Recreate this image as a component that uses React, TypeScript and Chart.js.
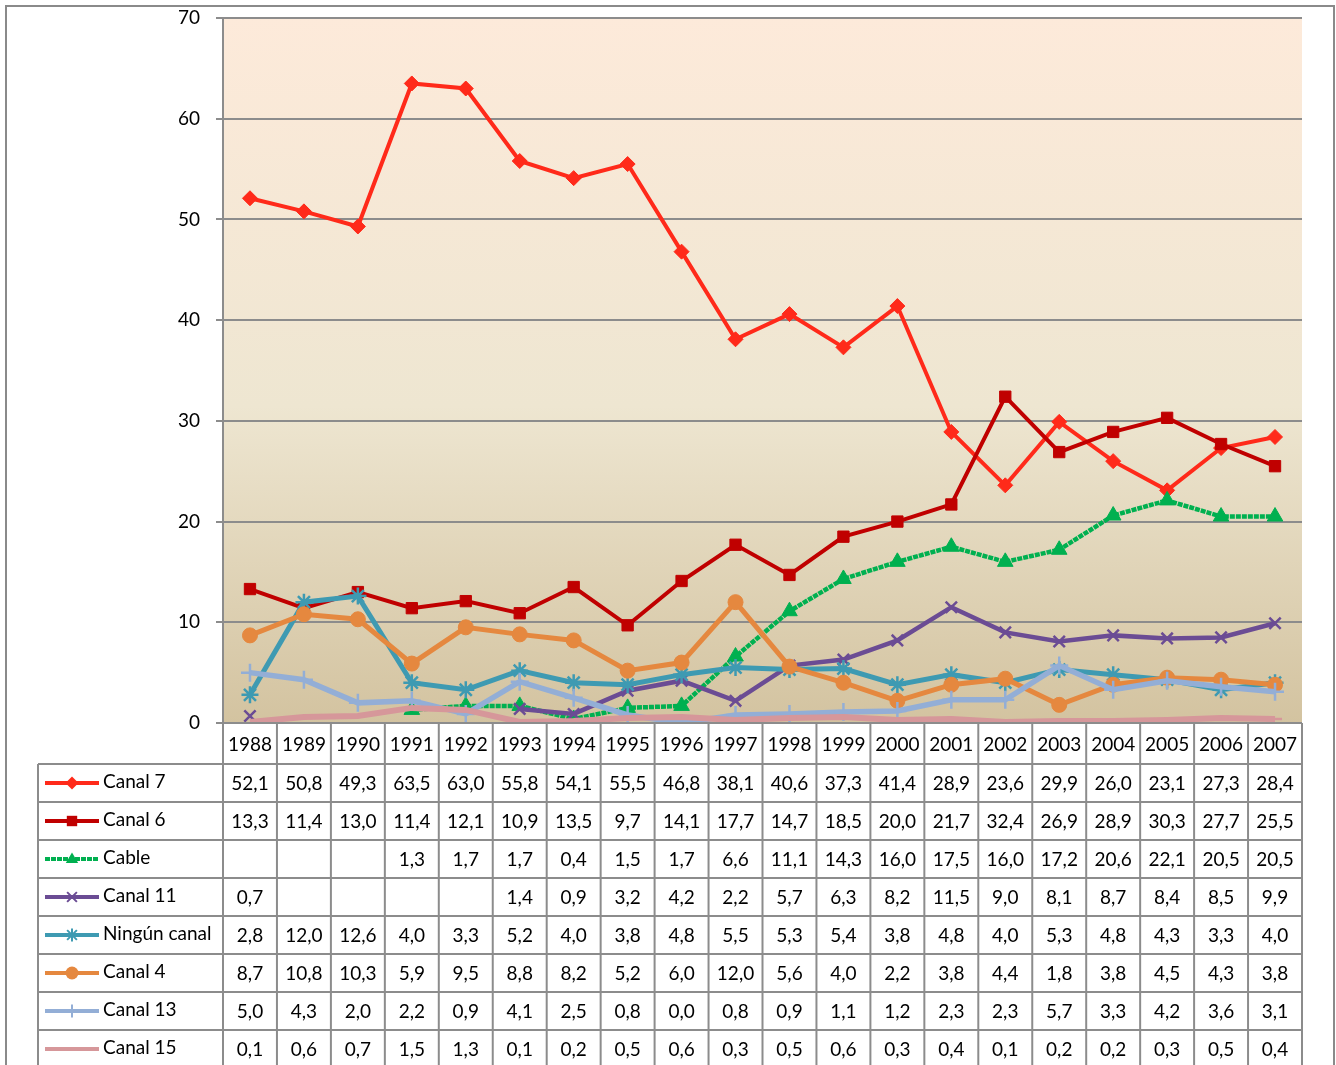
import React, { useEffect, useRef } from "react";
import { Chart, registerables } from "chart.js";

Chart.register(...registerables);

const years = ["1988","1989","1990","1991","1992","1993","1994","1995","1996","1997","1998","1999","2000","2001","2002","2003","2004","2005","2006","2007"];

const canal7 = [52.1,50.8,49.3,63.5,63.0,55.8,54.1,55.5,46.8,38.1,40.6,37.3,41.4,28.9,23.6,29.9,26.0,23.1,27.3,28.4];
const canal6 = [13.3,11.4,13.0,11.4,12.1,10.9,13.5,9.7,14.1,17.7,14.7,18.5,20.0,21.7,32.4,26.9,28.9,30.3,27.7,25.5];
const cable = [null,null,null,1.3,1.7,1.7,0.4,1.5,1.7,6.6,11.1,14.3,16.0,17.5,16.0,17.2,20.6,22.1,20.5,20.5];
const canal11 = [0.7,null,null,null,null,1.4,0.9,3.2,4.2,2.2,5.7,6.3,8.2,11.5,9.0,8.1,8.7,8.4,8.5,9.9];
const ningun = [2.8,12.0,12.6,4.0,3.3,5.2,4.0,3.8,4.8,5.5,5.3,5.4,3.8,4.8,4.0,5.3,4.8,4.3,3.3,4.0];
const canal4 = [8.7,10.8,10.3,5.9,9.5,8.8,8.2,5.2,6.0,12.0,5.6,4.0,2.2,3.8,4.4,1.8,3.8,4.5,4.3,3.8];
const canal13 = [5.0,4.3,2.0,2.2,0.9,4.1,2.5,0.8,0.0,0.8,0.9,1.1,1.2,2.3,2.3,5.7,3.3,4.2,3.6,3.1];
const canal15 = [0.1,0.6,0.7,1.5,1.3,0.1,0.2,0.5,0.6,0.3,0.5,0.6,0.3,0.4,0.1,0.2,0.2,0.3,0.5,0.4];

const seriesNames = ["Canal 7","Canal 6","Cable","Canal 11","Ningún canal","Canal 4","Canal 13","Canal 15"];
const seriesValues = [canal7, canal6, cable, canal11, ningun, canal4, canal13, canal15];
const yTicks = [0, 10, 20, 30, 40, 50, 60, 70];

const colors = ["#FF2A1A","#C00000","#00B050","#6B4C94","#3E9AB2","#E5883F","#93AED6","#D6979A"];
const widths = [4, 4, 4.5, 4.5, 5, 5, 5.5, 6];
const pointStyles = ["rectRot","rect","triangle","crossRot","star","circle","cross","dash"];
const radii = [7.5, 8, 9, 8, 8.5, 7.5, 9, 7];
const dashes = [[], [], [5, 1], [], [], [], [], []];

const FONT = "Lato, 'Open Sans', sans-serif";

const fmt = (v: number | null) => (v === null ? "" : v.toFixed(1).replace(".", ","));

const isStroked = (s: string) => s === "cross" || s === "crossRot" || s === "star" || s === "dash";

function drawMarker(ctx: CanvasRenderingContext2D, style: string, x: number, y: number, r: number, color: string) {
  ctx.save();
  ctx.fillStyle = color;
  ctx.strokeStyle = color;
  ctx.lineWidth = isStroked(style) ? 2 : 1;
  ctx.beginPath();
  if (style === "rectRot") {
    ctx.moveTo(x, y - r); ctx.lineTo(x + r, y); ctx.lineTo(x, y + r); ctx.lineTo(x - r, y); ctx.closePath(); ctx.fill();
  } else if (style === "rect") {
    const s = r * 0.8;
    ctx.rect(x - s, y - s, 2 * s, 2 * s); ctx.fill();
  } else if (style === "triangle") {
    ctx.moveTo(x, y - r); ctx.lineTo(x + r * 0.95, y + r * 0.6); ctx.lineTo(x - r * 0.95, y + r * 0.6); ctx.closePath(); ctx.fill();
  } else if (style === "circle") {
    ctx.arc(x, y, r, 0, Math.PI * 2); ctx.fill();
  } else if (style === "crossRot") {
    const d = r * 0.75;
    ctx.moveTo(x - d, y - d); ctx.lineTo(x + d, y + d); ctx.moveTo(x + d, y - d); ctx.lineTo(x - d, y + d); ctx.stroke();
  } else if (style === "cross") {
    ctx.moveTo(x, y - r); ctx.lineTo(x, y + r); ctx.moveTo(x - r, y); ctx.lineTo(x + r, y); ctx.stroke();
  } else if (style === "star") {
    const d = r * 0.75;
    ctx.moveTo(x - d, y - d); ctx.lineTo(x + d, y + d); ctx.moveTo(x + d, y - d); ctx.lineTo(x - d, y + d);
    ctx.moveTo(x, y - r); ctx.lineTo(x, y + r); ctx.stroke();
  } else if (style === "dash") {
    ctx.lineWidth = 4;
    ctx.moveTo(x - r, y); ctx.lineTo(x + r, y); ctx.stroke();
  }
  ctx.restore();
}

export default function App() {
  const ref = useRef<HTMLCanvasElement | null>(null);

  useEffect(() => {
    document.body.style.margin = "0";
    const canvas = ref.current!;
    const bgPlugin = {
      id: "bgPlugin",
      beforeDraw(chart: any) {
        const { ctx, chartArea: a } = chart;
        ctx.save();
        ctx.fillStyle = "#ffffff";
        ctx.fillRect(0, 0, chart.width, chart.height);
        const g = ctx.createLinearGradient(0, a.top, 0, a.bottom);
        g.addColorStop(0, "#FDEADA");
        g.addColorStop(0.55, "#EEE6D1");
        g.addColorStop(1, "#D3C3A0");
        ctx.fillStyle = g;
        ctx.fillRect(a.left, a.top, a.right - a.left, a.bottom - a.top);
        ctx.restore();
      },
    };
    const tablePlugin = {
      id: "tablePlugin",
      afterDraw(chart: any) {
        const { ctx, chartArea: a } = chart;
        const xs = chart.scales.x;
        const n = years.length;
        const colW = (a.right - a.left) / n;
        const headerTop = a.bottom;
        const headerBottom = a.bottom + 41;
        const rowH = 38;
        const tableLeft = 38;
        const bottom = chart.height + 10;
        ctx.save();
        ctx.strokeStyle = "#8A8A8A";
        ctx.lineWidth = 2;
        ctx.strokeRect(6, 6, 1328, chart.height + 20);
        ctx.strokeStyle = "#8C8C8C";
        ctx.lineWidth = 2;
        for (let i = 0; i <= n; i++) {
          const x = a.left + i * colW;
          ctx.beginPath();
          ctx.moveTo(x, headerTop);
          ctx.lineTo(x, bottom);
          ctx.stroke();
        }
        ctx.beginPath();
        ctx.moveTo(tableLeft, headerBottom);
        ctx.lineTo(tableLeft, bottom);
        ctx.stroke();
        ctx.beginPath();
        ctx.moveTo(a.left, headerTop);
        ctx.lineTo(a.right, headerTop);
        ctx.stroke();
        for (let r = 0; r <= seriesNames.length; r++) {
          const y = headerBottom + r * rowH;
          ctx.beginPath();
          ctx.moveTo(tableLeft, y);
          ctx.lineTo(a.right, y);
          ctx.stroke();
        }
        ctx.fillStyle = "#000";
        ctx.font = `19px ${FONT}`;
        ctx.textAlign = "center";
        ctx.textBaseline = "middle";
        years.forEach((yr, i) => {
          ctx.fillText(yr, xs.getPixelForValue(i), (headerTop + headerBottom) / 2 + 1);
        });
        seriesNames.forEach((name, r) => {
          const cy = headerBottom + r * rowH + rowH / 2 + 1;
          ctx.fillStyle = "#000";
          ctx.textAlign = "center";
          seriesValues[r].forEach((v, i) => {
            ctx.fillText(fmt(v), xs.getPixelForValue(i), cy);
          });
          ctx.save();
          ctx.strokeStyle = colors[r];
          ctx.lineWidth = 4;
          ctx.setLineDash(dashes[r]);
          ctx.beginPath();
          ctx.moveTo(45, cy - 1);
          ctx.lineTo(99, cy - 1);
          ctx.stroke();
          ctx.restore();
          drawMarker(ctx, pointStyles[r], 72, cy - 1, 6.5, colors[r]);
          ctx.fillStyle = "#000";
          ctx.textAlign = "left";
          ctx.fillText(name, 103, cy - 2);
        });
        ctx.restore();
      },
    };

    const chart = new Chart(canvas, {
      type: "line",
      data: {
        labels: years,
        datasets: seriesNames.map((name, i) => ({
          label: name,
          data: seriesValues[i],
          borderColor: colors[i],
          backgroundColor: colors[i],
          pointBackgroundColor: colors[i],
          pointBorderColor: colors[i],
          borderWidth: widths[i],
          borderDash: dashes[i],
          pointStyle: pointStyles[i] as any,
          pointRadius: radii[i],
          pointBorderWidth: isStroked(pointStyles[i]) ? 2.5 : 1,
          tension: 0,
          spanGaps: false,
          order: seriesNames.length - i,
        })),
      },
      options: {
        animation: false,
        responsive: false,
        maintainAspectRatio: false,
        layout: { padding: { left: 0, top: 18, right: 34, bottom: 342 } },
        plugins: { legend: { display: false }, tooltip: { enabled: false } },
        scales: {
          x: {
            display: false,
            offset: true,
            afterFit(scale: any) {
              scale.paddingTop = 0;
              scale.paddingBottom = 0;
              scale.paddingLeft = 0;
              scale.paddingRight = 0;
            },
          },
          y: {
            min: 0,
            max: 70,
            afterFit(scale: any) {
              scale.width = 223;
              scale.paddingTop = 0;
              scale.paddingBottom = 0;
            },
            afterBuildTicks(scale: any) {
              scale.ticks = yTicks.map((v) => ({ value: v }));
            },
            border: { display: true, color: "#8C8C8C", width: 2 },
            grid: {
              color: "#8C8C8C",
              lineWidth: 2,
              tickLength: 7,
              drawTicks: true,
            },
            ticks: {
              color: "#000",
              padding: 16,
              font: { family: FONT, size: 19 },
            },
          },
        },
      },
      plugins: [bgPlugin, tablePlugin],
    });
    return () => {
      chart.destroy();
    };
  }, []);

  return (
    <div style={{ width: 1336, height: 1065, overflow: "hidden" }}>
      <canvas ref={ref} width={1336} height={1065} style={{ display: "block" }} />
    </div>
  );
}
